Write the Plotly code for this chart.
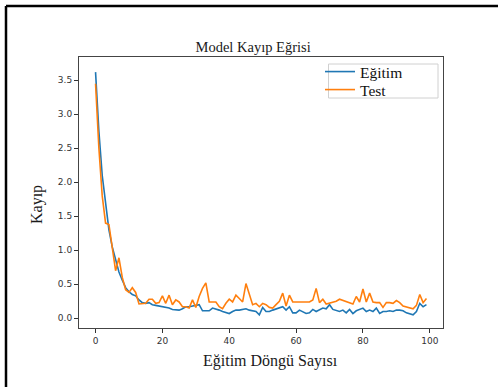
import plotly.graph_objects as go

epochs = list(range(100))
egitim = [3.62, 2.75, 2.10, 1.65, 1.30, 1.05, 0.85, 0.68, 0.56, 0.45,
          0.39, 0.35, 0.33, 0.27, 0.23, 0.22, 0.23, 0.20, 0.19, 0.18,
          0.18, 0.16, 0.15, 0.13, 0.12, 0.12, 0.14, 0.17, 0.17, 0.18,
          0.20, 0.20, 0.11, 0.11, 0.11, 0.15, 0.14, 0.12, 0.10, 0.08,
          0.07, 0.10, 0.12, 0.12, 0.13, 0.14, 0.12, 0.11, 0.10, 0.05,
          0.16, 0.10, 0.10, 0.12, 0.14, 0.15, 0.17, 0.12, 0.17, 0.08,
          0.08, 0.12, 0.10, 0.07, 0.08, 0.13, 0.10, 0.12, 0.15, 0.14,
          0.20, 0.13, 0.12, 0.10, 0.12, 0.08, 0.13, 0.07, 0.11, 0.13,
          0.15, 0.10, 0.12, 0.10, 0.15, 0.07, 0.10, 0.10, 0.11, 0.10,
          0.12, 0.12, 0.11, 0.08, 0.07, 0.05, 0.10, 0.22, 0.17, 0.20]
test = [3.45, 2.50, 1.80, 1.40, 1.38, 1.00, 0.70, 0.89, 0.60, 0.42,
        0.38, 0.45, 0.38, 0.21, 0.21, 0.22, 0.28, 0.28, 0.22, 0.23,
        0.33, 0.22, 0.34, 0.20, 0.27, 0.24, 0.17, 0.17, 0.15, 0.27,
        0.16, 0.32, 0.44, 0.52, 0.24, 0.24, 0.24, 0.17, 0.14, 0.22,
        0.28, 0.24, 0.34, 0.29, 0.24, 0.51, 0.34, 0.20, 0.22, 0.17,
        0.22, 0.20, 0.16, 0.15, 0.20, 0.25, 0.37, 0.18, 0.34, 0.24,
        0.24, 0.24, 0.23, 0.23, 0.24, 0.27, 0.44, 0.23, 0.28, 0.21,
        0.22, 0.23, 0.25, 0.28, 0.26, 0.24, 0.22, 0.21, 0.32, 0.24,
        0.43, 0.24, 0.37, 0.24, 0.23, 0.23, 0.16, 0.23, 0.23, 0.22,
        0.26, 0.23, 0.18, 0.17, 0.15, 0.14, 0.19, 0.35, 0.23, 0.29]

x_ticks = [0, 20, 40, 60, 80, 100]
y_ticks = [0.0, 0.5, 1.0, 1.5, 2.0, 2.5, 3.0, 3.5]
y_tick_labels = ["0.0", "0.5", "1.0", "1.5", "2.0", "2.5", "3.0", "3.5"]

SERIF = "Liberation Serif"
TICKF = dict(family="DejaVu Sans", size=9, color="#333333")
TXT = "#1a1a1a"

L, R, T, B = 79, 55, 57, 59
W, H = 498, 387
pw, ph = W - L - R, H - T - B


def px(x):
    return (x - L) / pw


def py(y):
    return (H - B - y) / ph


fig = go.Figure()
fig.add_trace(go.Scatter(x=epochs, y=egitim, mode="lines", name="Eğitim",
                         line=dict(color="#1f77b4", width=1.6),
                         legend="legend"))
fig.add_trace(go.Scatter(x=epochs, y=test, mode="lines", name="Test",
                         line=dict(color="#ff7f0e", width=1.6),
                         legend="legend2"))

leg_common = dict(xanchor="left", yanchor="middle",
                  bgcolor="rgba(0,0,0,0)", borderwidth=0,
                  font=dict(family=SERIF, size=15.5, color="#111111"),
                  itemwidth=30)

fig.update_layout(
    width=W, height=H,
    margin=dict(l=L, r=R, t=T, b=B),
    paper_bgcolor="white", plot_bgcolor="white",
    showlegend=True,
    title=dict(text="Model Kayıp Eğrisi", x=px(264), xanchor="center",
               y=1 - 47 / H, yanchor="middle",
               font=dict(family=SERIF, size=14.5, color=TXT)),
    legend=dict(x=px(320), y=py(72), **leg_common),
    legend2=dict(x=px(320), y=py(90), **leg_common),
    xaxis=dict(range=[-4.95, 103.95], tickmode="array", tickvals=x_ticks,
               ticks="outside", ticklen=4, tickcolor="#333333",
               tickfont=TICKF, showgrid=False, zeroline=False,
               showline=True, linecolor="#444444", linewidth=1, mirror=True),
    yaxis=dict(range=[-0.143, 3.843], tickmode="array", tickvals=y_ticks,
               ticktext=y_tick_labels,
               ticks="outside", ticklen=4, tickcolor="#333333",
               tickfont=TICKF, showgrid=False, zeroline=False,
               showline=True, linecolor="#444444", linewidth=1, mirror=True),
    annotations=[
        dict(text="Eğitim Döngü Sayısı", xref="paper", yref="paper",
             x=px(270), y=py(361), xanchor="center", yanchor="middle",
             showarrow=False, font=dict(family=SERIF, size=16, color=TXT)),
        dict(text="Kayıp", xref="paper", yref="paper", textangle=-90,
             x=px(37), y=py(205), xanchor="center", yanchor="middle",
             showarrow=False, font=dict(family=SERIF, size=16, color=TXT)),
    ],
)

# legend frame
fig.add_shape(type="rect", xref="paper", yref="paper", layer="above",
              x0=px(328.5), x1=px(438), y0=py(64), y1=py(98),
              fillcolor="white", line=dict(color="#d0d0d0", width=1))

# outer document frame (left and top edges)
fig.add_shape(type="line", xref="paper", yref="paper",
              x0=px(6), x1=px(W + 5), y0=py(6), y1=py(6),
              line=dict(color="black", width=2.5))
fig.add_shape(type="line", xref="paper", yref="paper",
              x0=px(6), x1=px(6), y0=py(6), y1=py(H + 5),
              line=dict(color="black", width=2.5))

fig.write_html("out.html",
               config={"displayModeBar": False},
               post_script="document.body.style.margin='0';"
                           "document.body.style.overflow='hidden';")
